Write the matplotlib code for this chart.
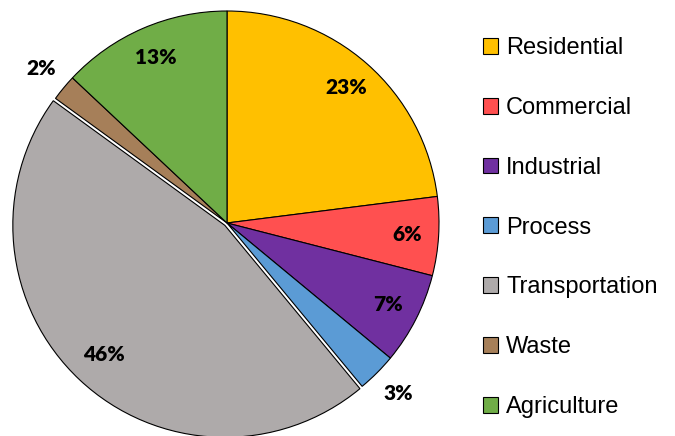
import numpy as np
import matplotlib
matplotlib.use("Agg")
import matplotlib.pyplot as plt
from matplotlib.patches import Patch

sectors = ["Residential", "Commercial", "Industrial", "Process",
           "Transportation", "Waste", "Agriculture"]
shares = [23, 6, 7, 3, 46, 2, 13]
colors = ["#FFC000", "#FF5050", "#7030A0", "#5B9BD5",
          "#AEAAAA", "#A67F59", "#70AD47"]
outside = ["Process", "Waste"]

fig = plt.figure(figsize=(6.75, 4.36), dpi=100)
ax = fig.add_axes([15 / 675, 1 / 436, 424 / 675, 424 / 436])

explode = [0.015 if s == "Transportation" else 0 for s in sectors]
wedges, _ = ax.pie(shares, colors=colors, startangle=90, counterclock=False,
                   explode=explode,
                   wedgeprops=dict(edgecolor="black", linewidth=0.8))

for w, s, v in zip(wedges, sectors, shares):
    ang = np.deg2rad((w.theta1 + w.theta2) / 2)
    r = 1.14 if s in outside else 0.85
    ax.text(r * np.cos(ang), r * np.sin(ang), "{}%".format(v),
            ha="center", va="center", fontsize=15, fontweight="heavy",
            family=["Lato", "DejaVu Sans"])
ax.set_aspect("equal")
ax.set_xlim(-1.0, 1.0)
ax.set_ylim(-1.0, 1.0)
ax.axis("off")

handles = [Patch(facecolor=c, edgecolor="black", linewidth=0.8) for c in colors]
fig.legend(handles, sectors, loc="center left", bbox_to_anchor=(0.715, 0.478),
           frameon=False, prop=dict(family=["Liberation Sans"], size=17),
           handlelength=0.65, handleheight=0.65, handletextpad=0.35,
           labelspacing=1.6, borderaxespad=0, borderpad=0)

fig.savefig("out.png", dpi=100)
